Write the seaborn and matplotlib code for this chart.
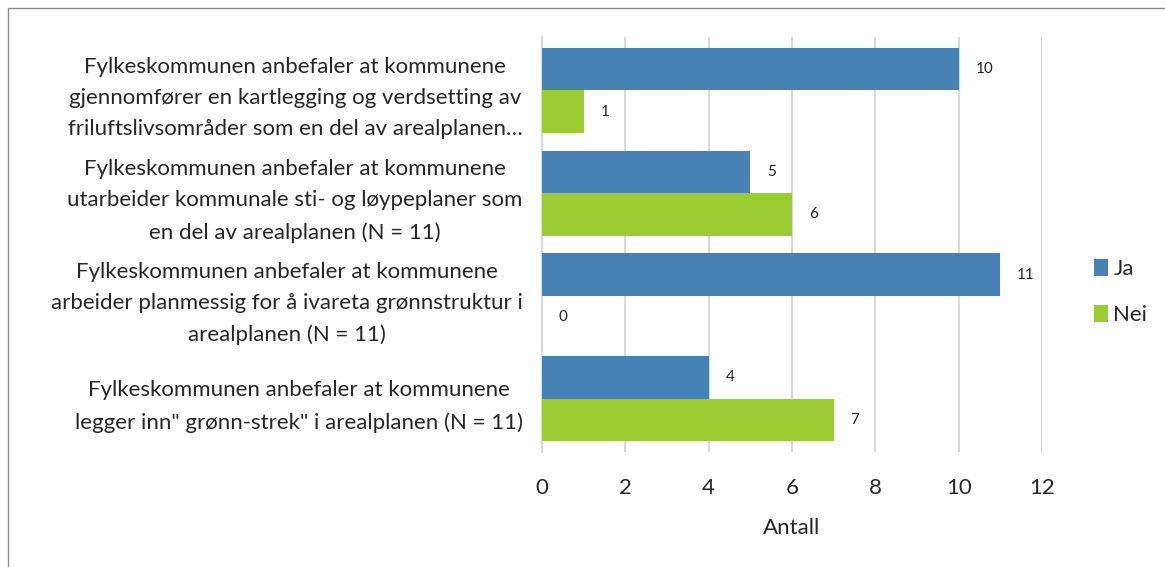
import pandas as pd
import matplotlib.pyplot as plt
import seaborn as sns
from matplotlib.patches import Rectangle

# Survey data
questions = [
    "Fylkeskommunen anbefaler at kommunene\ngjennomfører en kartlegging og verdsetting av\nfriluftslivsområder som en del av arealplanen…",
    "Fylkeskommunen anbefaler at kommunene\nutarbeider kommunale sti- og løypeplaner som\nen del av arealplanen (N = 11)",
    "Fylkeskommunen anbefaler at kommunene\narbeider planmessig for å ivareta grønnstruktur i\narealplanen (N = 11)",
    "Fylkeskommunen anbefaler at kommunene\nlegger inn\" grønn-strek\" i arealplanen (N = 11)",
]
ja = [10, 5, 11, 4]
nei = [1, 6, 0, 7]
answers = ["Ja", "Nei"]
colors = ["#4682B4", "#9ACD32"]
xticks = [0, 2, 4, 6, 8, 10, 12]

df = pd.DataFrame({
    "Spørsmål": questions * 2,
    "Svar": ["Ja"] * 4 + ["Nei"] * 4,
    "Antall": ja + nei,
})

sns.set_style("white")
plt.rcParams['font.family'] = ['Lato', 'DejaVu Sans']

fig = plt.figure(figsize=(11.65, 5.67), dpi=100)
ax = fig.add_axes([0.4652, 0.2028, 0.4292, 0.7319])

sns.barplot(data=df, y="Spørsmål", x="Antall", hue="Svar", hue_order=answers,
            palette=colors, orient="h", width=0.83, saturation=1,
            edgecolor="none", ax=ax, zorder=3)

for c in ax.containers:
    ax.bar_label(c, padding=12, fontsize=11, color="#222222")

ax.set_xlim(0, 12)
ax.set_ylim(3.52, -0.52)
ax.set_xticks(xticks)
ax.set_xticklabels([str(t) for t in xticks], fontsize=16)
ax.tick_params(axis="x", length=0, pad=19)
ax.tick_params(axis="y", length=0, pad=14)
for lab in ax.get_yticklabels():
    lab.set_multialignment("center")
    lab.set_fontsize(16)
    lab.set_linespacing(1.7)
ax.xaxis.grid(True, color="#d9d9d9", linewidth=1.5, zorder=0)
ax.set_xlabel("Antall", fontsize=16, labelpad=14)
ax.set_ylabel("")
for s in ["top", "right", "bottom"]:
    ax.spines[s].set_visible(False)
ax.spines["left"].set_color("#d9d9d9")
ax.spines["left"].set_linewidth(1.5)

handles, labels = ax.get_legend_handles_labels()
ax.legend(handles, labels, loc="center left", bbox_to_anchor=(1.065, 0.385),
          frameon=False, fontsize=16, handlelength=0.6, handleheight=0.8,
          handletextpad=0.25, labelspacing=1.15)

fig.patches.append(Rectangle((8 / 1165, -0.01), 1.2, 1 - 8 / 567 + 0.01,
                             transform=fig.transFigure, fill=False,
                             edgecolor="#8c8c8c", linewidth=1))

plt.savefig("out.png", dpi=100)
